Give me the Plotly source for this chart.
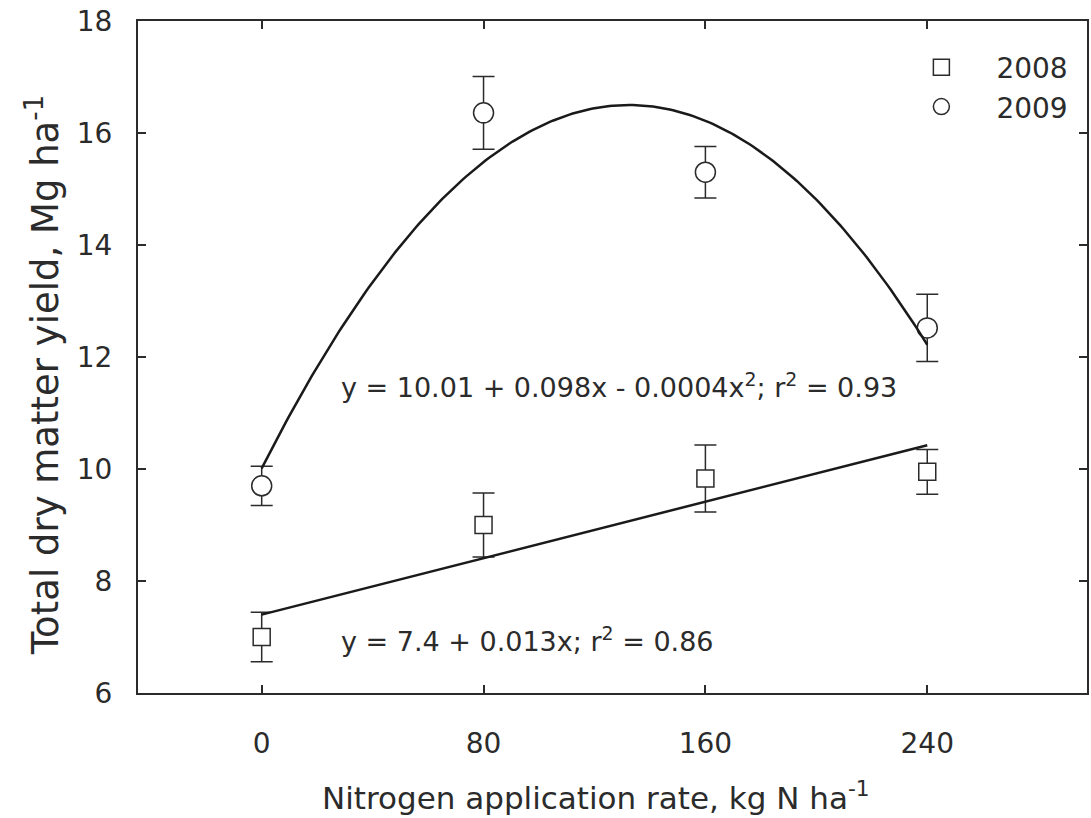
import numpy as np
import plotly.graph_objects as go

# Nitrogen rates (kg N/ha)
n_rate = [0, 80, 160, 240]

# Total dry matter yield (Mg/ha) with standard errors
yield_2008 = [7.0, 9.0, 9.83, 9.95]
err_2008 = [0.44, 0.57, 0.6, 0.4]
yield_2009 = [9.7, 16.36, 15.3, 12.52]
err_2009 = [0.35, 0.65, 0.46, 0.6]

# Regression coefficients
lin_2008 = [7.4, 0.0126]
quad_2009 = [10.01, 0.098, -0.00037]

x_ticks = [0, 80, 160, 240]
y_ticks = [6, 8, 10, 12, 14, 16, 18]

ink = "#2b2b2b"
font_family = "DejaVu Sans, Verdana, sans-serif"

xfit = np.linspace(0, 240, 200)
y_lin = lin_2008[0] + lin_2008[1] * xfit
y_quad = quad_2009[0] + quad_2009[1] * xfit + quad_2009[2] * xfit ** 2

fig = go.Figure()

fig.add_trace(go.Scatter(
    x=n_rate, y=yield_2008, mode="markers", name="2008",
    marker=dict(symbol="square", size=17, color="white",
                line=dict(color=ink, width=1.5)),
    error_y=dict(type="data", array=err_2008, color=ink, thickness=1.5, width=11),
))
fig.add_trace(go.Scatter(
    x=n_rate, y=yield_2009, mode="markers", name="2009",
    marker=dict(symbol="circle", size=20, color="white",
                line=dict(color=ink, width=1.5)),
    error_y=dict(type="data", array=err_2009, color=ink, thickness=1.5, width=11),
))
fig.add_trace(go.Scatter(x=xfit, y=y_lin, mode="lines", showlegend=False,
                         line=dict(color="#1a1a1a", width=2.5)))
fig.add_trace(go.Scatter(x=xfit, y=y_quad, mode="lines", showlegend=False,
                         line=dict(color="#1a1a1a", width=2.5)))

axis_common = dict(
    showline=True, linecolor=ink, linewidth=2, mirror="ticks",
    ticks="inside", ticklen=8, tickwidth=2, tickcolor=ink,
    showgrid=False, zeroline=False,
    tickfont=dict(size=28, color=ink, family=font_family),
)

fig.update_xaxes(range=[-44.6, 297.6], tickvals=x_ticks,
                 ticklabelstandoff=24, **axis_common)
fig.update_yaxes(range=[6, 18], tickvals=y_ticks,
                 ticklabelstandoff=18, **axis_common)

annotations = [
    dict(x=28, y=11.5, xref="x", yref="y", xanchor="left", yanchor="middle",
         text="y = 10.01 + 0.098x - 0.0004x<sup>2</sup>; r<sup>2</sup> = 0.93",
         showarrow=False, font=dict(size=27, color=ink, family=font_family)),
    dict(x=28, y=6.95, xref="x", yref="y", xanchor="left", yanchor="middle",
         text="y = 7.4 + 0.013x; r<sup>2</sup> = 0.86",
         showarrow=False, font=dict(size=27, color=ink, family=font_family)),
    dict(x=0.483, y=-0.153, xref="paper", yref="paper", xanchor="center", yanchor="middle",
         text="Nitrogen application rate, kg N ha<sup>-1</sup>",
         showarrow=False, font=dict(size=31, color=ink, family=font_family)),
    dict(x=-0.1, y=0.473, xref="paper", yref="paper", xanchor="center", yanchor="middle",
         text="Total dry matter yield, Mg ha<sup>-1</sup>", textangle=-90,
         showarrow=False, font=dict(size=37, color=ink, family=font_family)),
]

fig.update_layout(
    width=1091, height=818,
    margin=dict(l=138, r=2, t=21, b=125),
    paper_bgcolor="white", plot_bgcolor="white",
    annotations=annotations,
    legend=dict(x=0.7886, y=0.968, xanchor="left", yanchor="top",
                bgcolor="rgba(0,0,0,0)", itemwidth=100,
                font=dict(size=28, color=ink, family=font_family)),
    font=dict(family=font_family, color=ink),
)

fig.write_html("out.html")
